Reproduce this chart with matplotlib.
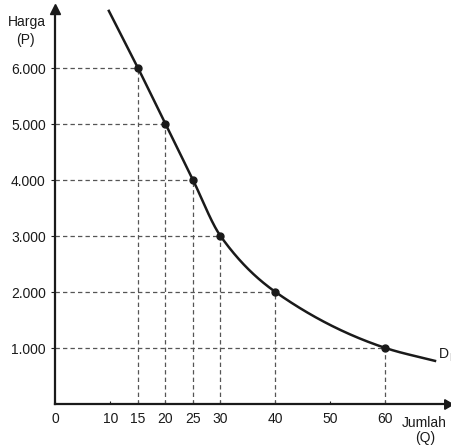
import numpy as np
import matplotlib
matplotlib.use("Agg")
import matplotlib.pyplot as plt

plt.rcParams['font.family'] = ['Liberation Sans', 'DejaVu Sans']

# Data
q_points = [15, 20, 25, 30, 40, 60]
p_points = [6000, 5000, 4000, 3000, 2000, 1000]
# curve control points (including the ends of the drawn curve)
q_curve = [9.7, 15, 20, 25, 30, 40, 60, 69]
p_curve = [7020, 6000, 5000, 4000, 3000, 2000, 1000, 770]
x_ticks = [0, 10, 15, 20, 25, 30, 40, 50, 60]
y_ticks = [1000, 2000, 3000, 4000, 5000, 6000]
y_tick_labels = ["1.000", "2.000", "3.000", "4.000", "5.000", "6.000"]


def pchip(x, y, xs):
    x = np.asarray(x, float); y = np.asarray(y, float)
    h = np.diff(x); d = np.diff(y) / h
    n = len(x)
    m = np.zeros(n)
    for k in range(1, n - 1):
        if d[k - 1] * d[k] > 0:
            w1 = 2 * h[k] + h[k - 1]
            w2 = h[k] + 2 * h[k - 1]
            m[k] = (w1 + w2) / (w1 / d[k - 1] + w2 / d[k])
    m[0] = d[0]; m[-1] = d[-1]
    out = np.empty_like(xs)
    for i, xv in enumerate(xs):
        k = min(max(np.searchsorted(x, xv) - 1, 0), n - 2)
        t = (xv - x[k]) / h[k]
        h00 = 2 * t**3 - 3 * t**2 + 1
        h10 = t**3 - 2 * t**2 + t
        h01 = -2 * t**3 + 3 * t**2
        h11 = t**3 - t**2
        out[i] = h00 * y[k] + h10 * h[k] * m[k] + h01 * y[k + 1] + h11 * h[k] * m[k + 1]
    return out


fig = plt.figure(figsize=(4.52, 4.45), dpi=100)
W, H = 452, 445
x0, y0 = 55.5, 404
xr, yt = 447, 9
ax = fig.add_axes([x0 / W, (H - y0) / H, (xr - x0) / W, (y0 - yt) / H])
ax.set_xlim(0, (xr - x0) / 5.5)
ax.set_ylim(0, (y0 - yt) / 56 * 1000)
ax.patch.set_alpha(0)
for s in ['top', 'right']:
    ax.spines[s].set_visible(False)
for s in ['left', 'bottom']:
    ax.spines[s].set_linewidth(1.6)
    ax.spines[s].set_color('#1a1a1a')

# arrows
ax.plot(1, 0, marker=(3, 0, -90), color='#1a1a1a', markersize=8,
        transform=ax.get_yaxis_transform(), clip_on=False)
ax.plot(0, 1, marker='^', color='#1a1a1a', markersize=7,
        transform=ax.get_xaxis_transform(), clip_on=False)

# dashed guides
for q, p in zip(q_points, p_points):
    ax.plot([0, q], [p, p], linestyle=(0, (3.5, 2.5)), color='#555555', lw=0.9)
    ax.plot([q, q], [0, p], linestyle=(0, (3.5, 2.5)), color='#555555', lw=0.9)

xs = np.linspace(q_curve[0], q_curve[-1], 400)
ax.plot(xs, pchip(q_curve, p_curve, xs), color='#1a1a1a', lw=1.8, clip_on=False)
ax.plot(q_points, p_points, 'o', color='#1a1a1a', markersize=5)

ax.set_xticks(x_ticks)
ax.set_xticklabels([str(v) for v in x_ticks])
ax.set_yticks(y_ticks)
ax.set_yticklabels(y_tick_labels)
ax.tick_params(axis='x', direction='in', length=2.5, width=0.8, pad=6, labelsize=10, colors='#1a1a1a')
ax.tick_params(axis='y', direction='out', length=3, width=0.8, pad=4, labelsize=10, colors='#1a1a1a')

fig.text(27 / W, 1 - 22 / H, "Harga", ha='center', va='center', fontsize=10, color='#1a1a1a')
fig.text(25 / W, 1 - 40 / H, "(P)", ha='center', va='center', fontsize=10, color='#1a1a1a')
fig.text(424 / W, 1 - 423 / H, "Jumlah", ha='center', va='center', fontsize=10, color='#1a1a1a')
fig.text(425 / W, 1 - 438 / H, "(Q)", ha='center', va='center', fontsize=10, color='#1a1a1a')
fig.text(439 / W, 1 - 354 / H, "D", ha='left', va='center', fontsize=10, color='#1a1a1a')
fig.text(449 / W, 1 - 358 / H, "I", ha='left', va='center', fontsize=7, color='#1a1a1a')

fig.savefig("out.png", dpi=100)
